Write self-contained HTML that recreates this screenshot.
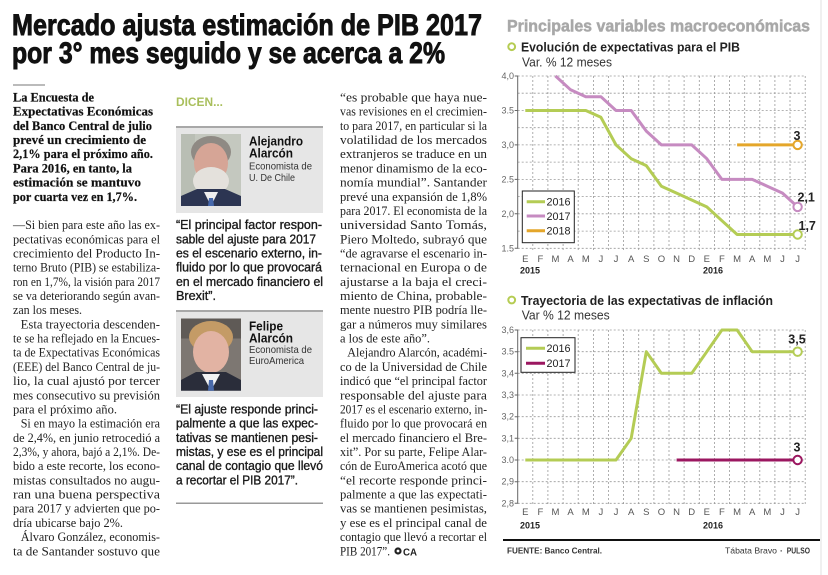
<!DOCTYPE html>
<html><head><meta charset="utf-8"><style>
html,body{margin:0;padding:0;background:#fff;}
svg{display:block;}
.sf{font-family:"Liberation Serif",serif;}
.ss{font-family:"Liberation Sans",sans-serif;}
</style></head><body>
<svg width="828" height="575" viewBox="0 0 828 575" xmlns="http://www.w3.org/2000/svg">
<rect width="828" height="575" fill="#fff"/>
<!-- Headline -->
<g class="ss" font-weight="bold" fill="#111" stroke="#111" stroke-width="0.9" font-size="30">
<text x="12" y="35" textLength="470" lengthAdjust="spacingAndGlyphs">Mercado ajusta  estimación de PIB 2017</text>
<text x="12" y="63" textLength="433" lengthAdjust="spacingAndGlyphs">por 3° mes seguido y se acerca a 2%</text>
</g>
<rect x="13" y="84" width="32" height="2" fill="#bbb"/>

<!-- Left lead -->
<g class="sf" font-weight="bold" fill="#111" stroke="#111" stroke-width="0.2" font-size="13">
<text x="13" y="101.5" textLength="81" lengthAdjust="spacingAndGlyphs">La Encuesta de</text>
<text x="13" y="115.7" textLength="140" lengthAdjust="spacingAndGlyphs">Expectativas Económicas</text>
<text x="13" y="129.9" textLength="139" lengthAdjust="spacingAndGlyphs">del Banco Central de julio</text>
<text x="13" y="144" textLength="133" lengthAdjust="spacingAndGlyphs">prevé un crecimiento de</text>
<text x="13" y="158.2" textLength="140" lengthAdjust="spacingAndGlyphs">2,1% para el próximo año.</text>
<text x="13" y="172.4" textLength="119" lengthAdjust="spacingAndGlyphs">Para 2016, en tanto, la</text>
<text x="13" y="186.6" textLength="128" lengthAdjust="spacingAndGlyphs">estimación se mantuvo</text>
<text x="13" y="200.8" textLength="124" lengthAdjust="spacingAndGlyphs">por cuarta vez  en 1,7%.</text>
</g>
<!-- Left body -->
<g class="sf" fill="#222" font-size="12.5">
<text x="13" y="229.1" textLength="147" lengthAdjust="spacingAndGlyphs">—Si bien para este año las ex-</text>
<text x="13" y="243.3" textLength="147" lengthAdjust="spacingAndGlyphs">pectativas económicas para el</text>
<text x="13" y="257.5" textLength="147" lengthAdjust="spacingAndGlyphs">crecimiento del Producto In-</text>
<text x="13" y="271.7" textLength="147" lengthAdjust="spacingAndGlyphs">terno Bruto (PIB) se estabiliza-</text>
<text x="13" y="285.8" textLength="147" lengthAdjust="spacingAndGlyphs">ron en 1,7%, la visión para 2017</text>
<text x="13" y="300" textLength="147" lengthAdjust="spacingAndGlyphs">se va deteriorando según avan-</text>
<text x="13" y="314.2" textLength="69" lengthAdjust="spacingAndGlyphs">zan los meses.</text>
<text x="20.7" y="328.4" textLength="139.3" lengthAdjust="spacingAndGlyphs">Esta trayectoria descenden-</text>
<text x="13" y="342.6" textLength="147" lengthAdjust="spacingAndGlyphs">te se ha reflejado en la Encues-</text>
<text x="13" y="356.7" textLength="147" lengthAdjust="spacingAndGlyphs">ta de Expectativas Económicas</text>
<text x="13" y="370.9" textLength="147" lengthAdjust="spacingAndGlyphs">(EEE) del Banco Central de ju-</text>
<text x="13" y="385.1" textLength="147" lengthAdjust="spacingAndGlyphs">lio, la cual ajustó por tercer</text>
<text x="13" y="399.3" textLength="147" lengthAdjust="spacingAndGlyphs">mes consecutivo su previsión</text>
<text x="13" y="413.5" textLength="104" lengthAdjust="spacingAndGlyphs">para el próximo año.</text>
<text x="20.7" y="427.6" textLength="139.3" lengthAdjust="spacingAndGlyphs">Si en mayo la estimación era</text>
<text x="13" y="441.8" textLength="147" lengthAdjust="spacingAndGlyphs">de 2,4%, en junio retrocedió a</text>
<text x="13" y="456" textLength="147" lengthAdjust="spacingAndGlyphs">2,3%, y ahora, bajó a 2,1%. De-</text>
<text x="13" y="470.2" textLength="147" lengthAdjust="spacingAndGlyphs">bido a este recorte, los econo-</text>
<text x="13" y="484.4" textLength="147" lengthAdjust="spacingAndGlyphs">mistas consultados no augu-</text>
<text x="13" y="498.5" textLength="147" lengthAdjust="spacingAndGlyphs">ran una buena perspectiva</text>
<text x="13" y="512.7" textLength="147" lengthAdjust="spacingAndGlyphs">para 2017 y advierten que po-</text>
<text x="13" y="526.9" textLength="110" lengthAdjust="spacingAndGlyphs">dría ubicarse bajo 2%.</text>
<text x="20.7" y="541.1" textLength="139.3" lengthAdjust="spacingAndGlyphs">Álvaro González, economis-</text>
<text x="13" y="555.3" textLength="147" lengthAdjust="spacingAndGlyphs">ta de Santander sostuvo que</text>
</g>

<!-- Middle column -->
<text class="ss" x="176" y="106" font-size="12" font-weight="bold" fill="#a9bf5c" textLength="47" lengthAdjust="spacingAndGlyphs">DICEN...</text>
<rect x="176" y="127" width="147" height="86" fill="#e6e6e6"/>
<rect x="176" y="126" width="147" height="2" fill="#a8a8a8"/>
<!-- photo 1 -->
<g>
<rect x="181" y="134" width="60" height="72" fill="#c4c8bf"/>
<rect x="181" y="134" width="14" height="72" fill="#b9beb4"/>
<ellipse cx="211" cy="152" rx="20" ry="16" fill="#8f8a84"/>
<ellipse cx="211" cy="163" rx="17" ry="20" fill="#d6a596"/>
<ellipse cx="211" cy="181" rx="18" ry="14" fill="#e4e1dc"/>
<path d="M181 206 L181 196 L197 189 L225 189 L241 196 L241 206 Z" fill="#2c3552"/>
<path d="M204 192 L211 206 L218 192 Z" fill="#f0f0f0"/>
<path d="M209 198 L213 198 L214 206 L208 206 Z" fill="#4668ac"/>
</g>
<g class="ss">
<text x="249" y="145.5" font-size="13" font-weight="bold" fill="#111" textLength="54" lengthAdjust="spacingAndGlyphs">Alejandro</text>
<text x="249" y="157.5" font-size="13" font-weight="bold" fill="#111" textLength="44" lengthAdjust="spacingAndGlyphs">Alarcón</text>
<text x="249" y="169.5" font-size="10.5" fill="#333" textLength="63" lengthAdjust="spacingAndGlyphs">Economista de</text>
<text x="249" y="181" font-size="10.5" fill="#333" textLength="46" lengthAdjust="spacingAndGlyphs">U. De Chile</text>
</g>
<g class="ss" fill="#1a1a1a" stroke="#1a1a1a" stroke-width="0.35" font-size="12.5">
<text x="176" y="229.1" textLength="146" lengthAdjust="spacingAndGlyphs">“El principal factor respon-</text>
<text x="176" y="243.3" textLength="140" lengthAdjust="spacingAndGlyphs">sable del ajuste para 2017</text>
<text x="176" y="257.5" textLength="146" lengthAdjust="spacingAndGlyphs">es el escenario externo, in-</text>
<text x="176" y="271.7" textLength="146" lengthAdjust="spacingAndGlyphs">fluido por lo que provocará</text>
<text x="176" y="285.8" textLength="147" lengthAdjust="spacingAndGlyphs">en el mercado financiero el</text>
<text x="176" y="300" textLength="40" lengthAdjust="spacingAndGlyphs">Brexit”.</text>
</g>
<rect x="176" y="311" width="147" height="86" fill="#e6e6e6"/>
<rect x="176" y="310" width="147" height="2" fill="#a8a8a8"/>
<!-- photo 2 -->
<g>
<rect x="181" y="318.5" width="60" height="72" fill="#7d7772"/>
<rect x="181" y="318.5" width="60" height="20" fill="#5f5a56"/>
<ellipse cx="211" cy="337" rx="22" ry="16" fill="#c49b66"/>
<ellipse cx="211" cy="352" rx="18" ry="21" fill="#e2b3a3"/>
<path d="M181 390.7 L181 380 L196 372 L226 372 L241 380 L241 390.7 Z" fill="#2a2d3a"/>
<path d="M202 374 L211 390.7 L220 374 Z" fill="#f2f2f2"/>
<path d="M209 380 L213 380 L214 390.7 L208 390.7 Z" fill="#4a6aaa"/>
</g>
<g class="ss">
<text x="249" y="330.5" font-size="13" font-weight="bold" fill="#111" textLength="34" lengthAdjust="spacingAndGlyphs">Felipe</text>
<text x="249" y="342.5" font-size="13" font-weight="bold" fill="#111" textLength="44" lengthAdjust="spacingAndGlyphs">Alarcón</text>
<text x="249" y="353" font-size="10.5" fill="#333" textLength="63" lengthAdjust="spacingAndGlyphs">Economista de</text>
<text x="249" y="364" font-size="10.5" fill="#333" textLength="55" lengthAdjust="spacingAndGlyphs">EuroAmerica</text>
</g>
<g class="ss" fill="#1a1a1a" stroke="#1a1a1a" stroke-width="0.35" font-size="12.5">
<text x="176" y="413.5" textLength="142" lengthAdjust="spacingAndGlyphs">“El ajuste responde princi-</text>
<text x="176" y="427.6" textLength="142" lengthAdjust="spacingAndGlyphs">palmente a que las expec-</text>
<text x="176" y="441.8" textLength="142" lengthAdjust="spacingAndGlyphs">tativas se mantienen pesi-</text>
<text x="176" y="456" textLength="147" lengthAdjust="spacingAndGlyphs">mistas, y ese es el principal</text>
<text x="176" y="470.2" textLength="147" lengthAdjust="spacingAndGlyphs">canal de contagio que llevó</text>
<text x="176" y="484.4" textLength="122" lengthAdjust="spacingAndGlyphs">a recortar el PIB 2017”.</text>
</g>
<rect x="176" y="502.5" width="147" height="1.5" fill="#999"/>

<!-- Right text column -->
<g class="sf" fill="#222" font-size="12.5">
<text x="340" y="101.5" textLength="147" lengthAdjust="spacingAndGlyphs">“es probable que haya nue-</text>
<text x="340" y="115.7" textLength="147" lengthAdjust="spacingAndGlyphs">vas revisiones en el crecimien-</text>
<text x="340" y="129.9" textLength="147" lengthAdjust="spacingAndGlyphs">to para 2017, en particular si la</text>
<text x="340" y="144" textLength="147" lengthAdjust="spacingAndGlyphs">volatilidad de los mercados</text>
<text x="340" y="158.2" textLength="147" lengthAdjust="spacingAndGlyphs">extranjeros se traduce en un</text>
<text x="340" y="172.4" textLength="147" lengthAdjust="spacingAndGlyphs">menor dinamismo de la eco-</text>
<text x="340" y="186.6" textLength="147" lengthAdjust="spacingAndGlyphs">nomía mundial”. Santander</text>
<text x="340" y="200.8" textLength="147" lengthAdjust="spacingAndGlyphs">prevé una expansión de 1,8%</text>
<text x="340" y="214.9" textLength="147" lengthAdjust="spacingAndGlyphs">para 2017. El economista de la</text>
<text x="340" y="229.1" textLength="147" lengthAdjust="spacingAndGlyphs">universidad Santo Tomás,</text>
<text x="340" y="243.3" textLength="147" lengthAdjust="spacingAndGlyphs">Piero Moltedo, subrayó que</text>
<text x="340" y="257.5" textLength="147" lengthAdjust="spacingAndGlyphs">“de agravarse el escenario in-</text>
<text x="340" y="271.7" textLength="147" lengthAdjust="spacingAndGlyphs">ternacional en Europa o de</text>
<text x="340" y="285.8" textLength="147" lengthAdjust="spacingAndGlyphs">ajustarse a la baja el creci-</text>
<text x="340" y="300" textLength="147" lengthAdjust="spacingAndGlyphs">miento de China, probable-</text>
<text x="340" y="314.2" textLength="147" lengthAdjust="spacingAndGlyphs">mente nuestro PIB podría lle-</text>
<text x="340" y="328.4" textLength="147" lengthAdjust="spacingAndGlyphs">gar a números muy similares</text>
<text x="340" y="342.6" textLength="90" lengthAdjust="spacingAndGlyphs">a los de este año”.</text>
<text x="347.3" y="356.7" textLength="139.7" lengthAdjust="spacingAndGlyphs">Alejandro Alarcón, académi-</text>
<text x="340" y="370.9" textLength="147" lengthAdjust="spacingAndGlyphs">co de la Universidad de Chile</text>
<text x="340" y="385.1" textLength="147" lengthAdjust="spacingAndGlyphs">indicó que “el principal factor</text>
<text x="340" y="399.3" textLength="147" lengthAdjust="spacingAndGlyphs">responsable del ajuste para</text>
<text x="340" y="413.5" textLength="147" lengthAdjust="spacingAndGlyphs">2017 es el escenario externo, in-</text>
<text x="340" y="427.6" textLength="147" lengthAdjust="spacingAndGlyphs">fluido por lo que provocará en</text>
<text x="340" y="441.8" textLength="147" lengthAdjust="spacingAndGlyphs">el mercado financiero el Bre-</text>
<text x="340" y="456" textLength="147" lengthAdjust="spacingAndGlyphs">xit”. Por su parte, Felipe Alar-</text>
<text x="340" y="470.2" textLength="147" lengthAdjust="spacingAndGlyphs">cón de EuroAmerica acotó que</text>
<text x="340" y="484.4" textLength="147" lengthAdjust="spacingAndGlyphs">“el recorte responde princi-</text>
<text x="340" y="498.5" textLength="147" lengthAdjust="spacingAndGlyphs">palmente a que las expectati-</text>
<text x="340" y="512.7" textLength="147" lengthAdjust="spacingAndGlyphs">vas se mantienen pesimistas,</text>
<text x="340" y="526.9" textLength="147" lengthAdjust="spacingAndGlyphs">y ese es el principal canal de</text>
<text x="340" y="541.1" textLength="147" lengthAdjust="spacingAndGlyphs">contagio que llevó a recortar el</text>
<text x="340" y="555.3" textLength="50" lengthAdjust="spacingAndGlyphs">PIB 2017”.</text>
</g>
<circle cx="398" cy="551" r="3.6" fill="#222"/>
<circle cx="398" cy="551" r="1.4" fill="#fff"/>
<text class="ss" x="403" y="555.3" font-size="10.5" font-weight="bold" fill="#222" textLength="14" lengthAdjust="spacingAndGlyphs">CA</text>

<!-- Right faint border -->
<rect x="820.5" y="0" width="1" height="575" fill="#e2e2e2"/>

<!-- Chart header -->
<text class="ss" x="507" y="31.7" font-size="17" font-weight="bold" fill="#a8a8a8" stroke="#a8a8a8" stroke-width="0.5" textLength="303" lengthAdjust="spacingAndGlyphs">Principales variables macroeconómicas</text>
<circle cx="511.7" cy="46.7" r="3.4" fill="#fff" stroke="#b5cc52" stroke-width="2"/>
<text class="ss" x="521" y="51.7" font-size="13" font-weight="bold" fill="#222" textLength="219" lengthAdjust="spacingAndGlyphs">Evolución de expectativas para el PIB</text>
<text class="ss" x="522" y="66.5" font-size="12.5" fill="#333" textLength="90" lengthAdjust="spacingAndGlyphs">Var. % 12 meses</text>

<!-- Chart 1 grid -->
<g stroke="#9a9a9a" stroke-width="0.8" stroke-dasharray="2,2" fill="none">
<path d="M517.7 76H805.2M517.7 93.2H805.2M517.7 110.5H805.2M517.7 127.7H805.2M517.7 144.9H805.2M517.7 162.1H805.2M517.7 179.4H805.2M517.7 196.6H805.2M517.7 213.8H805.2M517.7 231.1H805.2M517.7 248.3H805.2"/>
<path d="M532.8 76V250M547.9 76V250M563.1 76V250M578.2 76V250M593.4 76V250M608.5 76V250M623.6 76V250M638.7 76V250M653.9 76V250M669 76V250M684.1 76V250M699.3 76V250M714.4 76V250M729.5 76V250M744.7 76V250M759.8 76V250M774.9 76V250M790 76V250M805.2 76V250"/>
</g>
<path d="M517.7 75.5V248.8M514.7 76H517.7M514.7 110.5H517.7M514.7 144.9H517.7M514.7 179.4H517.7M514.7 213.8H517.7M514.7 248.3H517.7" stroke="#666" stroke-width="1" fill="none"/>
<g class="ss" font-size="9" fill="#666" text-anchor="end">
<text x="514" y="79">4,0</text><text x="514" y="113.5">3.5</text><text x="514" y="148">3,0</text>
<text x="514" y="182.5">2.5</text><text x="514" y="217">2,0</text><text x="514" y="251.5">1.5</text>
</g>
<g class="ss" font-size="9.5" fill="#555" text-anchor="middle">
<text x="525.3" y="261.8">E</text><text x="540.4" y="261.8">F</text><text x="555.5" y="261.8">M</text><text x="570.6" y="261.8">A</text><text x="585.8" y="261.8">M</text><text x="600.9" y="261.8">J</text><text x="616" y="261.8">J</text><text x="631.2" y="261.8">A</text><text x="646.3" y="261.8">S</text><text x="661.4" y="261.8">O</text><text x="676.6" y="261.8">N</text><text x="691.7" y="261.8">D</text><text x="706.8" y="261.8">E</text><text x="721.9" y="261.8">F</text><text x="737.1" y="261.8">M</text><text x="752.2" y="261.8">A</text><text x="767.3" y="261.8">M</text><text x="782.5" y="261.8">J</text><text x="797.6" y="261.8">J</text>
</g>
<g class="ss" font-size="9" font-weight="bold" fill="#222">
<text x="520" y="273.5">2015</text><text x="703" y="273.5">2016</text>
</g>
<!-- Chart 1 series -->
<g fill="none" stroke-width="3" stroke-linejoin="round" stroke-linecap="butt">
<polyline stroke="#b4cc55" points="525.3,110.5 540.4,110.5 555.5,110.5 570.6,110.5 585.8,110.5 600.9,117.3 616,144.9 631.2,158.7 646.3,165.6 661.4,186.2 676.6,193.1 691.7,200 706.8,206.9 721.9,220.7 737.1,234.5 752.2,234.5 767.3,234.5 782.5,234.5 797.6,234.5"/>
<polyline stroke="#c68bc1" points="555.5,76 570.6,89.8 585.8,96.7 600.9,96.7 616,110.5 631.2,110.5 646.3,131.1 661.4,144.9 676.6,144.9 691.7,144.9 706.8,158.7 721.9,179.4 737.1,179.4 752.2,179.4 767.3,186.2 782.5,193.1 797.6,206.9"/>
<polyline stroke="#e4a62a" points="737.1,144.9 797.6,144.9"/>
</g>
<circle cx="797.6" cy="144.9" r="4.2" fill="#fff" stroke="#e4a62a" stroke-width="2"/>
<circle cx="797.6" cy="206.9" r="4.2" fill="#fff" stroke="#c68bc1" stroke-width="2"/>
<circle cx="797.6" cy="234.5" r="4.2" fill="#fff" stroke="#b4cc55" stroke-width="2"/>
<g class="ss" font-size="12.5" font-weight="bold" fill="#222">
<text x="797" y="140" text-anchor="middle">3</text>
<text x="797.5" y="201.5">2,1</text>
<text x="798.5" y="229.8">1,7</text>
</g>
<!-- Legend 1 -->
<rect x="522.3" y="191" width="52" height="51.7" fill="#fff" stroke="#222" stroke-width="1"/>
<g stroke-width="3">
<line x1="526.7" y1="201.7" x2="545" y2="201.7" stroke="#b4cc55"/>
<line x1="526.7" y1="216" x2="545" y2="216" stroke="#c68bc1"/>
<line x1="526.7" y1="230.7" x2="545" y2="230.7" stroke="#e4a62a"/>
</g>
<g class="ss" font-size="11" fill="#222">
<text x="546.5" y="205.6" textLength="24" lengthAdjust="spacingAndGlyphs">2016</text>
<text x="546.5" y="219.9" textLength="24" lengthAdjust="spacingAndGlyphs">2017</text>
<text x="546.5" y="234.6" textLength="24" lengthAdjust="spacingAndGlyphs">2018</text>
</g>

<!-- Chart 2 header -->
<circle cx="511.7" cy="300" r="3.4" fill="#fff" stroke="#b5cc52" stroke-width="2"/>
<text class="ss" x="521" y="305" font-size="13" font-weight="bold" fill="#222" textLength="252" lengthAdjust="spacingAndGlyphs">Trayectoria de las expectativas de inflación</text>
<text class="ss" x="521.7" y="319.5" font-size="12.5" fill="#333" textLength="88" lengthAdjust="spacingAndGlyphs">Var % 12 meses</text>

<!-- Chart 2 grid -->
<g stroke="#9a9a9a" stroke-width="0.8" stroke-dasharray="2,2" fill="none">
<path d="M517.7 330H805.2M517.7 351.7H805.2M517.7 373.3H805.2M517.7 395H805.2M517.7 416.7H805.2M517.7 438.3H805.2M517.7 460H805.2M517.7 481.7H805.2M517.7 503.3H805.2"/>
<path d="M532.8 330V505M547.9 330V505M563.1 330V505M578.2 330V505M593.4 330V505M608.5 330V505M623.6 330V505M638.7 330V505M653.9 330V505M669 330V505M684.1 330V505M699.3 330V505M714.4 330V505M729.5 330V505M744.7 330V505M759.8 330V505M774.9 330V505M790 330V505M805.2 330V505"/>
</g>
<path d="M517.7 329.5V503.8M514.7 330H517.7M514.7 351.7H517.7M514.7 373.3H517.7M514.7 395H517.7M514.7 416.7H517.7M514.7 438.3H517.7M514.7 460H517.7M514.7 481.7H517.7M514.7 503.3H517.7" stroke="#666" stroke-width="1" fill="none"/>
<g class="ss" font-size="9" fill="#666" text-anchor="end">
<text x="514" y="333">3,6</text><text x="514" y="354.7">3.5</text><text x="514" y="376.3">3,4</text>
<text x="514" y="398">3,3</text><text x="514" y="419.7">3,2</text><text x="514" y="441.3">3,1</text>
<text x="514" y="463">3.0</text><text x="514" y="484.7">2,9</text><text x="514" y="506.3">2,8</text>
</g>
<g class="ss" font-size="9.5" fill="#555" text-anchor="middle">
<text x="525.3" y="515">E</text><text x="540.4" y="515">F</text><text x="555.5" y="515">M</text><text x="570.6" y="515">A</text><text x="585.8" y="515">M</text><text x="600.9" y="515">J</text><text x="616" y="515">J</text><text x="631.2" y="515">A</text><text x="646.3" y="515">S</text><text x="661.4" y="515">O</text><text x="676.6" y="515">N</text><text x="691.7" y="515">D</text><text x="706.8" y="515">E</text><text x="721.9" y="515">F</text><text x="737.1" y="515">M</text><text x="752.2" y="515">A</text><text x="767.3" y="515">M</text><text x="782.5" y="515">J</text><text x="797.6" y="515">J</text>
</g>
<g class="ss" font-size="9" font-weight="bold" fill="#222">
<text x="520" y="528.5">2015</text><text x="703" y="528.5">2016</text>
</g>
<!-- Chart 2 series -->
<g fill="none" stroke-width="3" stroke-linejoin="round">
<polyline stroke="#b4cc55" points="525.3,460 540.4,460 555.5,460 570.6,460 585.8,460 600.9,460 616,460 631.2,438.3 646.3,351.7 661.4,373.3 676.6,373.3 691.7,373.3 706.8,351.7 721.9,330 737.1,330 752.2,351.7 767.3,351.7 782.5,351.7 797.6,351.7"/>
<polyline stroke="#9b1760" points="676.6,460 797.6,460"/>
</g>
<circle cx="797.6" cy="351.7" r="4.2" fill="#fff" stroke="#b4cc55" stroke-width="2"/>
<circle cx="797.6" cy="460" r="4.2" fill="#fff" stroke="#9b1760" stroke-width="2"/>
<g class="ss" font-size="12.5" font-weight="bold" fill="#222" text-anchor="middle">
<text x="797" y="343.3">3,5</text>
<text x="797" y="451.7">3</text>
</g>
<!-- Legend 2 -->
<rect x="521" y="337.7" width="54" height="34.6" fill="#fff" stroke="#222" stroke-width="1"/>
<g stroke-width="3">
<line x1="526" y1="348.3" x2="545" y2="348.3" stroke="#b4cc55"/>
<line x1="526" y1="363.3" x2="545" y2="363.3" stroke="#9b1760"/>
</g>
<g class="ss" font-size="11" fill="#222">
<text x="546.5" y="352.2" textLength="24" lengthAdjust="spacingAndGlyphs">2016</text>
<text x="546.5" y="367.2" textLength="24" lengthAdjust="spacingAndGlyphs">2017</text>
</g>

<!-- Footer -->
<rect x="503" y="539" width="317" height="2" fill="#111"/>
<text class="ss" x="507" y="553.5" font-size="8.5" font-weight="bold" fill="#333" textLength="95" lengthAdjust="spacingAndGlyphs">FUENTE: Banco Central.</text>
<text class="ss" x="725" y="553.5" font-size="8.5" fill="#333" textLength="52" lengthAdjust="spacingAndGlyphs">Tábata Bravo</text>
<text class="ss" x="780" y="553.5" font-size="8.5" font-weight="bold" fill="#333">·</text>
<text class="ss" x="786.7" y="553.5" font-size="8.5" font-weight="bold" fill="#333" textLength="23.3" lengthAdjust="spacingAndGlyphs">PULSO</text>
</svg>
</body></html>
